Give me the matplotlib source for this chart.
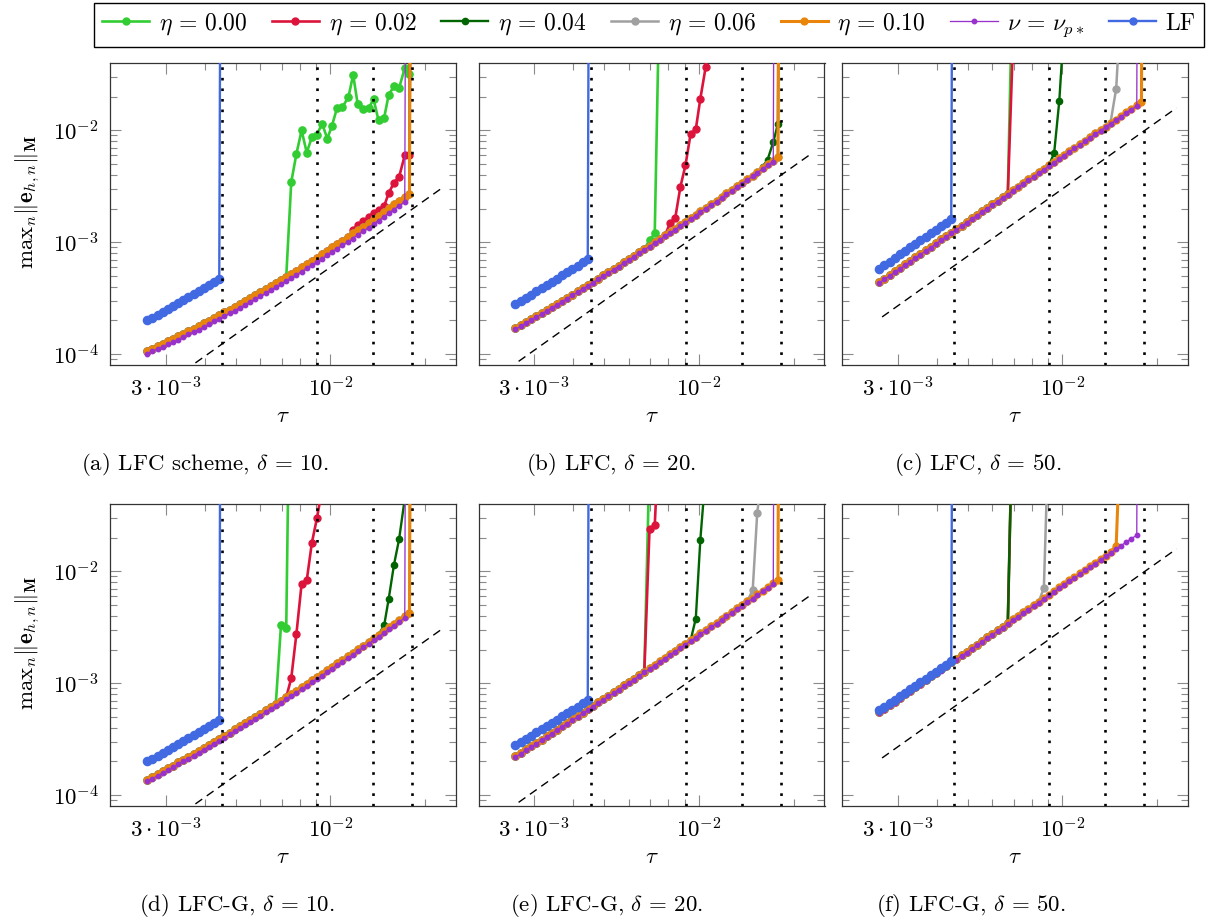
import matplotlib
matplotlib.use('Agg')
import matplotlib.pyplot as plt
from matplotlib.lines import Line2D
from matplotlib.ticker import NullFormatter

plt.rcParams.update({
    'mathtext.fontset': 'cm',
    'font.family': 'serif',
    'font.serif': ['cmr10'],
    'axes.unicode_minus': False,
    'axes.formatter.use_mathtext': True,
})

# ---------------- data ----------------
BIG = 1e10  # value after a blow-up (far above the plotted range)

tau = [2.62e-3, 2.72e-3, 2.83e-3, 2.94e-3, 3.05e-3, 3.17e-3, 3.29e-3, 3.41e-3, 3.54e-3, 3.68e-3,
       3.82e-3, 3.97e-3, 4.12e-3, 4.28e-3, 4.44e-3, 4.61e-3, 4.79e-3, 4.97e-3, 5.16e-3, 5.36e-3,
       5.56e-3, 5.78e-3, 6.00e-3, 6.23e-3, 6.46e-3, 6.71e-3, 6.97e-3, 7.24e-3, 7.51e-3, 7.80e-3,
       8.10e-3, 8.41e-3, 8.73e-3, 9.06e-3, 9.41e-3, 9.77e-3, 1.01e-2, 1.05e-2, 1.09e-2, 1.14e-2,
       1.18e-2, 1.22e-2, 1.27e-2, 1.32e-2, 1.37e-2, 1.42e-2, 1.48e-2, 1.53e-2, 1.59e-2, 1.65e-2,
       1.72e-2, 1.78e-2, 1.85e-2]

# panel (a) LFC, delta=10
or_a = [1.07e-4, 1.12e-4, 1.18e-4, 1.24e-4, 1.30e-4, 1.37e-4, 1.44e-4, 1.52e-4, 1.60e-4, 1.69e-4,
        1.78e-4, 1.88e-4, 1.99e-4, 2.10e-4, 2.23e-4, 2.36e-4, 2.50e-4, 2.65e-4, 2.81e-4, 2.98e-4,
        3.16e-4, 3.36e-4, 3.57e-4, 3.80e-4, 4.04e-4, 4.31e-4, 4.59e-4, 4.90e-4, 5.22e-4, 5.58e-4,
        5.96e-4, 6.37e-4, 6.82e-4, 7.30e-4, 7.81e-4, 8.37e-4, 8.98e-4, 9.64e-4, 1.03e-3, 1.11e-3,
        1.20e-3, 1.29e-3, 1.38e-3, 1.49e-3, 1.61e-3, 1.73e-3, 1.87e-3, 2.02e-3, 2.18e-3, 2.36e-3,
        2.55e-3, 2.72e-3]
pu_a = [1.01e-4, 1.06e-4, 1.11e-4, 1.16e-4, 1.22e-4, 1.28e-4, 1.35e-4, 1.42e-4, 1.50e-4, 1.58e-4,
        1.66e-4, 1.75e-4, 1.85e-4, 1.96e-4, 2.07e-4, 2.19e-4, 2.31e-4, 2.45e-4, 2.60e-4, 2.75e-4,
        2.92e-4, 3.10e-4, 3.29e-4, 3.50e-4, 3.72e-4, 3.96e-4, 4.22e-4, 4.49e-4, 4.79e-4, 5.11e-4,
        5.46e-4, 5.83e-4, 6.23e-4, 6.66e-4, 7.13e-4, 7.63e-4, 8.18e-4, 8.77e-4, 9.41e-4, 1.01e-3,
        1.08e-3, 1.17e-3, 1.25e-3, 1.35e-3, 1.45e-3, 1.56e-3, 1.69e-3, 1.82e-3, 1.96e-3, 2.12e-3,
        2.29e-3]
lf_a = [2.00e-4, 2.12e-4, 2.26e-4, 2.40e-4, 2.55e-4, 2.72e-4, 2.89e-4, 3.07e-4, 3.27e-4, 3.48e-4,
        3.70e-4, 3.93e-4, 4.18e-4, 4.45e-4, 4.73e-4]
gr_a = [3.45e-3, 6.19e-3, 1.00e-2, 6.32e-3, 8.71e-3, 9.16e-3, 1.15e-2, 8.43e-3, 1.09e-2, 1.60e-2,
        1.61e-2, 1.98e-2, 3.14e-2, 1.71e-2, 1.54e-2, 1.58e-2, 1.89e-2, 1.23e-2, 1.30e-2, 2.09e-2,
        2.47e-2, 2.39e-2, 3.60e-2, 3.21e-2]
re_a = [1.30e-3, 1.42e-3, 1.54e-3, 1.68e-3, 1.84e-3, 1.93e-3, 2.11e-3, 2.75e-3, 3.41e-3, 3.83e-3,
        5.98e-3, 6.07e-3]

# panel (b) LFC, delta=20
or_b = [1.70e-4, 1.81e-4, 1.92e-4, 2.05e-4, 2.18e-4, 2.32e-4, 2.47e-4, 2.63e-4, 2.81e-4, 2.99e-4,
        3.19e-4, 3.41e-4, 3.64e-4, 3.88e-4, 4.15e-4, 4.43e-4, 4.73e-4, 5.06e-4, 5.41e-4, 5.78e-4,
        6.19e-4, 6.62e-4, 7.09e-4, 7.59e-4, 8.13e-4, 8.71e-4, 9.33e-4, 1.00e-3, 1.07e-3, 1.15e-3,
        1.23e-3, 1.32e-3, 1.42e-3, 1.53e-3, 1.64e-3, 1.76e-3, 1.89e-3, 2.03e-3, 2.19e-3, 2.35e-3,
        2.53e-3, 2.73e-3, 2.93e-3, 3.16e-3, 3.40e-3, 3.67e-3, 3.95e-3, 4.26e-3, 4.60e-3, 4.96e-3,
        5.35e-3, 5.77e-3]
pu_b = [1.67e-4, 1.77e-4, 1.89e-4, 2.01e-4, 2.14e-4, 2.28e-4, 2.43e-4, 2.59e-4, 2.76e-4, 2.94e-4,
        3.14e-4, 3.35e-4, 3.57e-4, 3.81e-4, 4.07e-4, 4.35e-4, 4.65e-4, 4.97e-4, 5.31e-4, 5.68e-4,
        6.07e-4, 6.50e-4, 6.96e-4, 7.45e-4, 7.98e-4, 8.55e-4, 9.16e-4, 9.82e-4, 1.05e-3, 1.13e-3,
        1.21e-3, 1.30e-3, 1.40e-3, 1.50e-3, 1.61e-3, 1.73e-3, 1.86e-3, 2.00e-3, 2.15e-3, 2.31e-3,
        2.49e-3, 2.68e-3, 2.88e-3, 3.10e-3, 3.34e-3, 3.60e-3, 3.88e-3, 4.18e-3, 4.51e-3, 4.87e-3,
        5.25e-3]
lf_b = [2.79e-4, 2.98e-4, 3.19e-4, 3.41e-4, 3.64e-4, 3.89e-4, 4.15e-4, 4.44e-4, 4.74e-4, 5.06e-4,
        5.41e-4, 5.78e-4, 6.17e-4, 6.60e-4, 7.05e-4]
gr_b = [1.04e-3, 1.20e-3, 2.40e-1]
re_b = [1.49e-3, 1.65e-3, 3.12e-3, 4.87e-3, 9.35e-3, 1.02e-2, 1.92e-2, 3.67e-2, 1.58e-1]
dg_b = [4.70e-3, 5.47e-3, 7.85e-3, 1.15e-2]

# panel (c) LFC, delta=50
or_c = [4.40e-4, 4.73e-4, 5.09e-4, 5.48e-4, 5.89e-4, 6.34e-4, 6.82e-4, 7.33e-4, 7.89e-4, 8.49e-4,
        9.13e-4, 9.82e-4, 1.06e-3, 1.14e-3, 1.22e-3, 1.31e-3, 1.41e-3, 1.52e-3, 1.64e-3, 1.76e-3,
        1.89e-3, 2.04e-3, 2.19e-3, 2.35e-3, 2.53e-3, 2.72e-3, 2.93e-3, 3.15e-3, 3.39e-3, 3.64e-3,
        3.92e-3, 4.22e-3, 4.53e-3, 4.88e-3, 5.24e-3, 5.64e-3, 6.07e-3, 6.52e-3, 7.01e-3, 7.54e-3,
        8.11e-3, 8.72e-3, 9.38e-3, 1.01e-2, 1.08e-2, 1.17e-2, 1.25e-2, 1.35e-2, 1.45e-2, 1.56e-2,
        1.68e-2, 1.80e-2]
pu_c = [4.32e-4, 4.65e-4, 5.00e-4, 5.38e-4, 5.78e-4, 6.22e-4, 6.69e-4, 7.20e-4, 7.74e-4, 8.33e-4,
        8.96e-4, 9.64e-4, 1.04e-3, 1.12e-3, 1.20e-3, 1.29e-3, 1.39e-3, 1.49e-3, 1.61e-3, 1.73e-3,
        1.86e-3, 2.00e-3, 2.15e-3, 2.31e-3, 2.49e-3, 2.67e-3, 2.88e-3, 3.09e-3, 3.33e-3, 3.58e-3,
        3.85e-3, 4.14e-3, 4.45e-3, 4.79e-3, 5.15e-3, 5.54e-3, 5.95e-3, 6.40e-3, 6.89e-3, 7.41e-3,
        7.96e-3, 8.56e-3, 9.21e-3, 9.90e-3, 1.07e-2, 1.15e-2, 1.23e-2, 1.32e-2, 1.42e-2, 1.53e-2,
        1.65e-2]
lf_c = [5.82e-4, 6.26e-4, 6.73e-4, 7.23e-4, 7.78e-4, 8.36e-4, 8.99e-4, 9.66e-4, 1.04e-3, 1.12e-3,
        1.20e-3, 1.29e-3, 1.39e-3, 1.49e-3, 1.60e-3]
gr_c = [3.80e-1]
re_c = [6.31e-2]
dg_c = [6.27e-3, 1.83e-2, 8.13e-2]
ga_c = [2.36e-2, 1.26e-1]

# panel (d) LFC-G, delta=10
or_d = [1.38e-4, 1.46e-4, 1.55e-4, 1.64e-4, 1.74e-4, 1.84e-4, 1.96e-4, 2.08e-4, 2.21e-4, 2.35e-4,
        2.49e-4, 2.65e-4, 2.82e-4, 3.00e-4, 3.20e-4, 3.40e-4, 3.63e-4, 3.87e-4, 4.12e-4, 4.40e-4,
        4.69e-4, 5.01e-4, 5.35e-4, 5.72e-4, 6.11e-4, 6.54e-4, 6.99e-4, 7.48e-4, 8.01e-4, 8.58e-4,
        9.20e-4, 9.86e-4, 1.06e-3, 1.13e-3, 1.22e-3, 1.31e-3, 1.40e-3, 1.51e-3, 1.62e-3, 1.74e-3,
        1.87e-3, 2.02e-3, 2.17e-3, 2.34e-3, 2.52e-3, 2.71e-3, 2.93e-3, 3.16e-3, 3.41e-3, 3.68e-3,
        3.97e-3, 4.22e-3]
pu_d = [1.33e-4, 1.40e-4, 1.49e-4, 1.58e-4, 1.67e-4, 1.77e-4, 1.88e-4, 2.00e-4, 2.12e-4, 2.26e-4,
        2.40e-4, 2.55e-4, 2.71e-4, 2.89e-4, 3.07e-4, 3.27e-4, 3.49e-4, 3.72e-4, 3.97e-4, 4.23e-4,
        4.51e-4, 4.82e-4, 5.15e-4, 5.50e-4, 5.88e-4, 6.29e-4, 6.73e-4, 7.20e-4, 7.71e-4, 8.25e-4,
        8.84e-4, 9.48e-4, 1.02e-3, 1.09e-3, 1.17e-3, 1.26e-3, 1.35e-3, 1.45e-3, 1.56e-3, 1.68e-3,
        1.80e-3, 1.94e-3, 2.09e-3, 2.25e-3, 2.42e-3, 2.61e-3, 2.81e-3, 3.04e-3, 3.28e-3, 3.54e-3,
        3.82e-3]
lf_d = [2.00e-4, 2.12e-4, 2.26e-4, 2.40e-4, 2.55e-4, 2.72e-4, 2.89e-4, 3.07e-4, 3.27e-4, 3.48e-4,
        3.70e-4, 3.93e-4, 4.18e-4, 4.45e-4, 4.73e-4]
gr_d = [3.34e-3, 3.14e-3, 6.31e0]
re_d = [1.11e-3, 2.78e-3, 7.76e-3, 8.32e-3, 1.80e-2, 2.99e-2, 5.50e-2]
dg_d = [3.30e-3, 5.70e-3, 1.15e-2, 1.93e-2, 4.47e-2]

# panel (e) LFC-G, delta=20
or_e = [2.23e-4, 2.39e-4, 2.56e-4, 2.74e-4, 2.93e-4, 3.14e-4, 3.36e-4, 3.61e-4, 3.86e-4, 4.14e-4,
        4.44e-4, 4.76e-4, 5.10e-4, 5.47e-4, 5.86e-4, 6.29e-4, 6.74e-4, 7.23e-4, 7.76e-4, 8.33e-4,
        8.93e-4, 9.59e-4, 1.03e-3, 1.10e-3, 1.19e-3, 1.27e-3, 1.37e-3, 1.47e-3, 1.58e-3, 1.69e-3,
        1.82e-3, 1.95e-3, 2.10e-3, 2.26e-3, 2.43e-3, 2.61e-3, 2.80e-3, 3.01e-3, 3.24e-3, 3.48e-3,
        3.75e-3, 4.03e-3, 4.34e-3, 4.67e-3, 5.02e-3, 5.40e-3, 5.81e-3, 6.26e-3, 6.74e-3, 7.25e-3,
        7.81e-3, 8.41e-3]
pu_e = [2.19e-4, 2.34e-4, 2.51e-4, 2.69e-4, 2.88e-4, 3.08e-4, 3.30e-4, 3.54e-4, 3.79e-4, 4.06e-4,
        4.36e-4, 4.67e-4, 5.01e-4, 5.37e-4, 5.76e-4, 6.17e-4, 6.62e-4, 7.10e-4, 7.62e-4, 8.17e-4,
        8.77e-4, 9.41e-4, 1.01e-3, 1.08e-3, 1.16e-3, 1.25e-3, 1.34e-3, 1.44e-3, 1.55e-3, 1.66e-3,
        1.79e-3, 1.92e-3, 2.06e-3, 2.22e-3, 2.38e-3, 2.56e-3, 2.75e-3, 2.96e-3, 3.18e-3, 3.42e-3,
        3.68e-3, 3.96e-3, 4.26e-3, 4.58e-3, 4.93e-3, 5.30e-3, 5.71e-3, 6.14e-3, 6.61e-3, 7.12e-3,
        7.67e-3]
lf_e = [2.79e-4, 2.98e-4, 3.19e-4, 3.41e-4, 3.64e-4, 3.89e-4, 4.15e-4, 4.44e-4, 4.74e-4, 5.06e-4,
        5.41e-4, 5.78e-4, 6.17e-4, 6.60e-4, 7.05e-4]
gr_e = [1.02e-1]
re_e = [2.40e-2, 2.58e-2, 2.24e-1]
dg_e = [3.78e-3, 1.92e-2, 7.59e-2]
ga_e = [6.76e-3, 3.34e-2, 7.94e-2]

# panel (f) LFC-G, delta=50
or_f = [5.49e-4, 5.91e-4, 6.36e-4, 6.85e-4, 7.37e-4, 7.94e-4, 8.54e-4, 9.20e-4, 9.90e-4, 1.07e-3,
        1.15e-3, 1.23e-3, 1.33e-3, 1.43e-3, 1.54e-3, 1.66e-3, 1.78e-3, 1.92e-3, 2.07e-3, 2.22e-3,
        2.39e-3, 2.57e-3, 2.77e-3, 2.98e-3, 3.21e-3, 3.45e-3, 3.72e-3, 4.00e-3, 4.30e-3, 4.63e-3,
        4.98e-3, 5.36e-3, 5.76e-3, 6.20e-3, 6.67e-3, 7.18e-3, 7.72e-3, 8.31e-3, 8.94e-3, 9.61e-3,
        1.03e-2, 1.11e-2, 1.20e-2, 1.29e-2, 1.38e-2, 1.49e-2, 1.70e-2, 2.00e-1]
pu_f = [5.39e-4, 5.80e-4, 6.24e-4, 6.72e-4, 7.24e-4, 7.79e-4, 8.39e-4, 9.03e-4, 9.72e-4, 1.05e-3,
        1.13e-3, 1.21e-3, 1.30e-3, 1.40e-3, 1.51e-3, 1.63e-3, 1.75e-3, 1.88e-3, 2.03e-3, 2.18e-3,
        2.35e-3, 2.53e-3, 2.72e-3, 2.93e-3, 3.15e-3, 3.39e-3, 3.65e-3, 3.92e-3, 4.22e-3, 4.54e-3,
        4.89e-3, 5.26e-3, 5.66e-3, 6.09e-3, 6.55e-3, 7.05e-3, 7.58e-3, 8.16e-3, 8.77e-3, 9.44e-3,
        1.02e-2, 1.09e-2, 1.17e-2, 1.26e-2, 1.36e-2, 1.46e-2, 1.57e-2, 1.69e-2, 1.82e-2, 1.96e-2,
        2.10e-2]
lf_f = [5.74e-4, 6.17e-4, 6.63e-4, 7.12e-4, 7.65e-4, 8.22e-4, 8.84e-4, 9.50e-4, 1.02e-3, 1.10e-3,
        1.18e-3, 1.27e-3, 1.36e-3, 1.46e-3, 1.57e-3]
x_f = [4.27e-1]
ga_f = [7.10e-3, 2.24e-1]

# reference slope-2 lines and stability limits
ref_tau = [2.68e-3, 2.30e-2]
ref_a = [4.31e-5, 3.17e-3]
ref_b = [8.62e-5, 6.35e-3]
ref_c = [2.15e-4, 1.59e-2]
limits = [4.545e-3, 9.091e-3, 1.364e-2, 1.818e-2]

labels = [r'$\eta\,=\,0.00$', r'$\eta\,=\,0.02$', r'$\eta\,=\,0.04$', r'$\eta\,=\,0.06$',
          r'$\eta\,=\,0.10$', r'$\nu\,=\,\nu_{p*}$', 'LF']
captions = [r'(a) LFC scheme, $\delta\,=\,10$.', r'(b) LFC, $\delta\,=\,20$.', r'(c) LFC, $\delta\,=\,50$.',
            r'(d) LFC-G, $\delta\,=\,10$.', r'(e) LFC-G, $\delta\,=\,20$.', r'(f) LFC-G, $\delta\,=\,50$.']

# ---------------- styles ----------------
C_G = '#32CD32'; C_R = '#DC143C'; C_DG = '#006400'; C_GR = '#A0A0A0'
C_OR = '#E8850A'; C_PU = '#9932CC'; C_LF = '#4169E1'
ST = {
    'g':  dict(color=C_G, lw=1.9, marker='o', ms=5.2, zorder=2),
    'r':  dict(color=C_R, lw=1.9, marker='o', ms=5.0, zorder=3),
    'dg': dict(color=C_DG, lw=1.7, marker='o', ms=4.5, zorder=4),
    'ga': dict(color=C_GR, lw=1.8, marker='o', ms=5.0, zorder=5),
    'o':  dict(color=C_OR, lw=2.2, marker='o', ms=4.9, zorder=6),
    'p':  dict(color=C_PU, lw=0.95, marker='o', ms=3.2, zorder=7),
    'lf': dict(color=C_LF, lw=1.7, marker='o', ms=5.9, zorder=8),
}

panels = [
    {'g': or_a[:28] + gr_a + [BIG], 'r': or_a[:40] + re_a + [BIG], 'dg': or_a + [BIG],
     'ga': or_a + [BIG], 'o': or_a + [BIG], 'p': pu_a + [BIG], 'lf': lf_a + [BIG], 'ref': ref_a},
    {'g': or_b[:26] + gr_b, 'r': or_b[:30] + re_b, 'dg': or_b[:48] + dg_b + [BIG],
     'ga': or_b + [BIG], 'o': or_b + [BIG], 'p': pu_b + [BIG], 'lf': lf_b + [BIG], 'ref': ref_b},
    {'g': or_c[:26] + gr_c, 'r': or_c[:26] + re_c, 'dg': or_c[:34] + dg_c,
     'ga': or_c[:46] + ga_c, 'o': or_c + [BIG], 'p': pu_c + [BIG], 'lf': lf_c + [BIG], 'ref': ref_c},
    {'g': or_d[:26] + gr_d, 'r': or_d[:28] + re_d, 'dg': or_d[:46] + dg_d,
     'ga': or_d + [BIG], 'o': or_d + [BIG], 'p': pu_d + [BIG], 'lf': lf_d + [BIG], 'ref': ref_a},
    {'g': or_e[:26] + gr_e, 'r': or_e[:26] + re_e, 'dg': or_e[:35] + dg_e,
     'ga': or_e[:46] + ga_e, 'o': or_e + [BIG], 'p': pu_e + [BIG], 'lf': lf_e + [BIG], 'ref': ref_b},
    {'g': or_f[:26] + x_f, 'r': or_f[:26] + x_f, 'dg': or_f[:26] + x_f,
     'ga': or_f[:32] + ga_f, 'o': or_f, 'p': pu_f + [BIG], 'lf': lf_f + [BIG], 'ref': ref_c},
]

# ---------------- figure ----------------
FS = 16.5
W, H = 1209, 921
fig = plt.figure(figsize=(W / 100, H / 100), dpi=100)
lefts = [110, 478.5, 842]
tops = [63, 504]
aw, ah = 346, 302
cap_x = [205, 611, 978, 237, 606, 971]

for i, pan in enumerate(panels):
    r, c = divmod(i, 3)
    ax = fig.add_axes([lefts[c] / W, 1 - (tops[r] + ah) / H, aw / W, ah / H])
    ax.set_xscale('log'); ax.set_yscale('log')
    for key in ['g', 'r', 'dg', 'ga', 'o', 'p', 'lf']:
        y = pan[key]
        ax.plot(tau[:len(y)], y, **ST[key])
    ax.plot(ref_tau, pan['ref'], color='black', lw=1.0, ls=(0, (6, 4)), zorder=9)
    for v in limits:
        ax.axvline(v, color='black', lw=1.9, ls=(0, (1, 3)), zorder=10)
    ax.set_xlim(2e-3, 2.5e-2); ax.set_ylim(8e-5, 4e-2)
    ax.set_xticks([3e-3, 1e-2])
    ax.set_xticklabels([r'$3\cdot10^{-3}$', r'$10^{-2}$'])
    ax.set_xticks([4e-3, 5e-3, 6e-3, 7e-3, 8e-3, 9e-3, 2e-2], minor=True)
    ax.xaxis.set_minor_formatter(NullFormatter())
    ax.set_yticks([1e-4, 1e-3, 1e-2])
    ax.set_yticklabels([r'$10^{-4}$', r'$10^{-3}$', r'$10^{-2}$'] if c == 0 else [])
    ax.set_yticks([9e-5] + [k * 1e-4 for k in range(2, 10)] + [k * 1e-3 for k in range(2, 10)]
                  + [2e-2, 3e-2], minor=True)
    ax.yaxis.set_minor_formatter(NullFormatter())
    ax.tick_params(which='both', direction='in', top=True, right=True, color='#8a8a8a',
                   width=0.8, labelsize=FS)
    ax.tick_params(which='major', length=7.8, pad=8)
    ax.tick_params(which='minor', length=5.0)
    for s in ax.spines.values():
        s.set_linewidth(0.9); s.set_color('#333333')
    fig.text((lefts[c] + aw / 2) / W, 1 - (tops[r] + 353) / H, r'$\tau$', ha='center', va='center',
             fontsize=FS)
    fig.text(cap_x[i] / W, 1 - (tops[r] + 401) / H, captions[i], ha='center', va='center', fontsize=FS)
    if c == 0:
        fig.text(28 / W, 1 - (tops[r] + 139) / H, r'$\mathrm{max}_n\|\mathbf{e}_{h,n}\|_{\mathbf{M}}$',
                 rotation=90, ha='center', va='center', fontsize=FS)

handles = [Line2D([], [], color=ST[k]['color'], lw=ST[k]['lw'], marker='o',
                  ms=min(ST[k]['ms'], 5.0)) for k in ['g', 'r', 'dg', 'ga', 'o', 'p', 'lf']]
leg = fig.legend(handles, labels, loc='center', bbox_to_anchor=(649 / W, 1 - 25 / H), ncol=7,
                 frameon=True, fancybox=False, edgecolor='black', framealpha=1, fontsize=17,
                 handlelength=2.0, columnspacing=1.05, handletextpad=0.4, borderpad=0.35, numpoints=1)
leg.get_frame().set_linewidth(1.0)
fig.savefig('out.png', dpi=100)
